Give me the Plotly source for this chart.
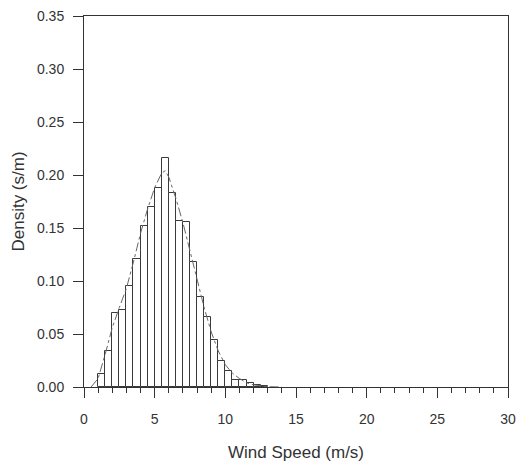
import plotly.graph_objects as go

# Histogram bins (left edges, m/s) and densities (s/m)
bin_left = [1.0, 1.5, 2.0, 2.5, 3.0, 3.5, 4.0, 4.5, 5.0, 5.5, 6.0, 6.5,
            7.0, 7.5, 8.0, 8.5, 9.0, 9.5, 10.0, 10.5, 11.0, 11.5, 12.0, 12.5]
bin_density = [0.012, 0.034, 0.070, 0.073, 0.095, 0.121, 0.152, 0.170,
               0.188, 0.216, 0.183, 0.157, 0.156, 0.118, 0.085, 0.066,
               0.044, 0.025, 0.015, 0.007, 0.007, 0.004, 0.002, 0.0006]
bin_width = 0.5

# Fitted density curve
fit_speed = [0.5, 1.0, 1.5, 2.0, 2.5, 3.0, 3.5, 4.0, 4.5, 5.0, 5.5, 5.75,
             6.0, 6.5, 7.0, 7.5, 8.0, 8.5, 9.0, 9.5, 10.0, 10.5, 11.0,
             11.5, 12.0, 12.5, 13.0, 14.0]
fit_density = [0.0, 0.008, 0.031, 0.056, 0.075, 0.093, 0.118, 0.145, 0.168,
               0.188, 0.202, 0.204, 0.198, 0.178, 0.155, 0.128, 0.100,
               0.075, 0.052, 0.034, 0.021, 0.013, 0.008, 0.004, 0.002,
               0.001, 0.0003, 0.0]

x_ticks = [0, 5, 10, 15, 20, 25, 30]
y_ticks = [0.00, 0.05, 0.10, 0.15, 0.20, 0.25, 0.30, 0.35]

fig = go.Figure()
fig.add_trace(go.Bar(
    x=[b + bin_width / 2 for b in bin_left],
    y=bin_density,
    width=bin_width,
    marker=dict(color="white", line=dict(color="#3a3a3a", width=1)),
    showlegend=False,
))
fig.add_trace(go.Scatter(
    x=fit_speed, y=fit_density, mode="lines",
    line=dict(color="#666666", width=1, dash="dashdot"),
    showlegend=False,
))

axis_font = dict(family="Liberation Sans, Arial, sans-serif", size=14, color="#333333")

fig.update_layout(
    width=516, height=468,
    margin=dict(l=84, r=8, t=16, b=81, autoexpand=False),
    paper_bgcolor="white", plot_bgcolor="white",
    font=axis_font,
    bargap=0,
    xaxis=dict(
        range=[0, 30], tickvals=x_ticks, ticktext=[str(v) for v in x_ticks],
        ticks="outside", ticklen=10, tickcolor="#333333", tickwidth=1,
        ticklabelstandoff=9,
        minor=dict(dtick=1, ticks="outside", ticklen=5, tickcolor="#333333"),
        showline=True, linecolor="#333333", linewidth=1, mirror=True,
        showgrid=False, zeroline=False, automargin=False,
        title=dict(text="Wind Speed (m/s)", standoff=20),
    ),
    yaxis=dict(
        range=[0, 0.35], tickvals=y_ticks, ticktext=["%.2f" % v for v in y_ticks],
        ticks="outside", ticklen=10, tickcolor="#333333", tickwidth=1,
        ticklabelstandoff=6,
        showline=True, linecolor="#333333", linewidth=1, mirror=True,
        showgrid=False, zeroline=False, automargin=False,
        title=dict(text="Density (s/m)", standoff=8),
    ),
)

fig.write_html("out.html")
